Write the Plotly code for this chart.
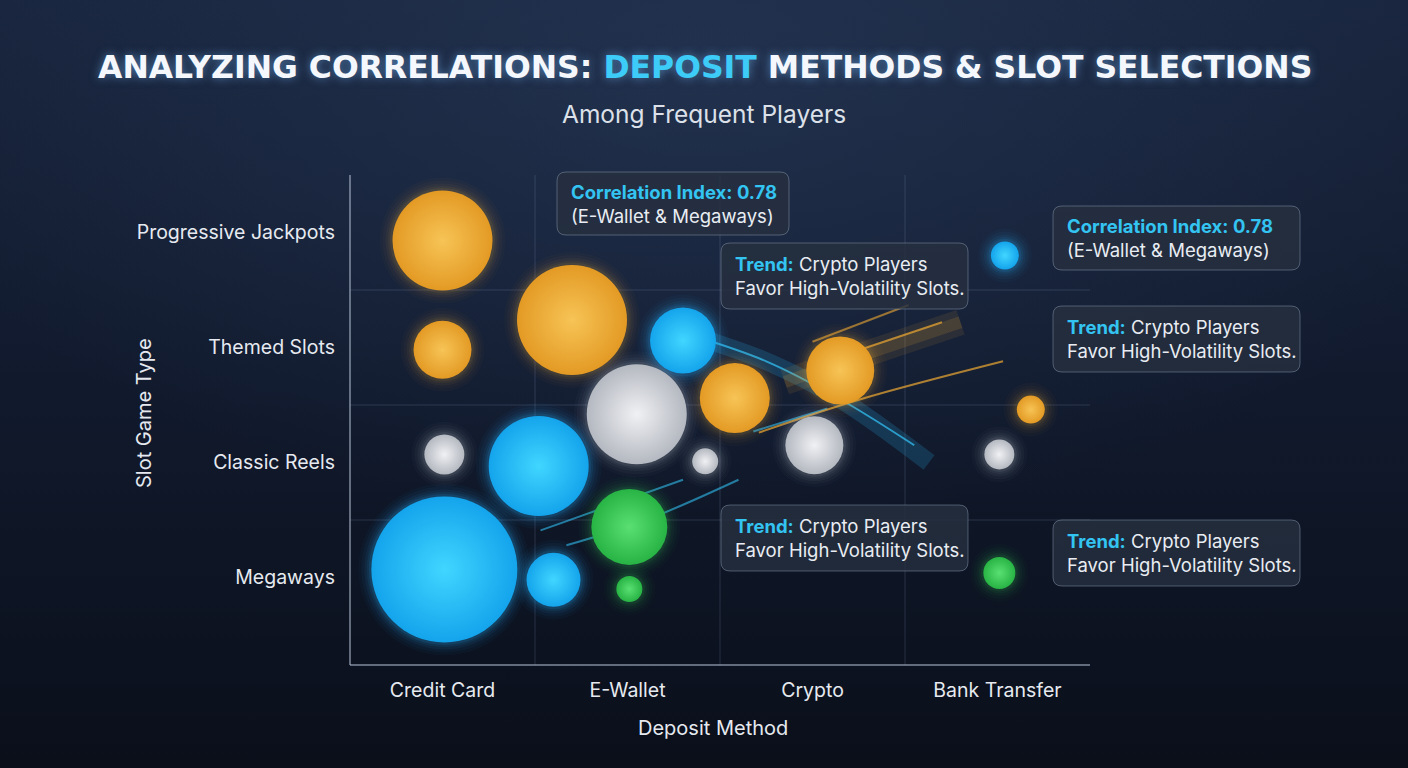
import base64
import plotly.graph_objects as go

# ---------------- data ----------------
deposit_methods = ["Credit Card", "E-Wallet", "Crypto", "Bank Transfer"]
slot_types = ["Megaways", "Classic Reels", "Themed Slots", "Progressive Jackpots"]

# bubble positions (category index, with jitter inside the cell)
bubble_x = [0.00, 0.00, 0.01, 0.01, 0.70, 1.30, 1.05, 0.52, 1.42, 1.01,
            0.60, 1.01, 1.58, 2.15, 2.01, 3.04, 3.18, 3.01, 3.01]
bubble_y = [2.93, 1.98, 1.07, 0.07, 2.24, 2.06, 1.42, 0.97, 1.01, 0.44,
            -0.02, -0.10, 1.56, 1.80, 1.15, 2.80, 1.46, 1.07, 0.04]
bubble_size = [100, 58, 40, 146, 110, 66, 100, 100, 26, 76,
               54, 26, 70, 68, 58, 28, 28, 30, 32]
bubble_tone = ["orange", "orange", "silver", "blue", "orange", "blue", "silver", "blue", "silver", "green",
               "blue", "green", "orange", "orange", "silver", "blue", "orange", "silver", "green"]

# decorative trend trails (data coords)
trails = [
    # (xs, ys, color, width)
    ([1.36, 1.75, 2.15, 2.63], [2.10, 1.88, 1.55, 1.00], "rgba(40,170,230,0.20)", 18),
    ([1.36, 1.75, 2.15, 2.55], [2.10, 1.88, 1.55, 1.15], "rgba(50,190,240,0.75)", 2),
    ([0.53, 1.30], [0.41, 0.85], "rgba(50,190,240,0.6)", 2),
    ([0.67, 1.10, 1.60], [0.28, 0.50, 0.85], "rgba(50,190,240,0.6)", 2),
    ([1.68, 2.08], [1.27, 1.47], "rgba(50,190,240,0.6)", 2),
    ([1.71, 2.26, 3.03], [1.26, 1.55, 1.88], "rgba(240,170,50,0.7)", 2),
    ([1.85, 2.30, 2.80], [1.70, 1.95, 2.22], "rgba(240,170,50,0.10)", 26),
    ([1.85, 2.30, 2.80], [1.70, 1.95, 2.22], "rgba(240,170,50,0.14)", 12),
    ([2.20, 2.70], [1.95, 2.22], "rgba(240,170,50,0.7)", 2),
    ([2.00, 2.52], [2.05, 2.37], "rgba(240,170,50,0.6)", 2),
]

note_corr = "<span style='color:#33C4F2'><b>Correlation Index: 0.78</b></span><br>(E-Wallet &amp; Megaways)"
note_trend = "<span style='color:#33C4F2'><b>Trend:</b></span> Crypto Players<br>Favor High-Volatility Slots."
# note boxes in pixel layout: (left, top, right, bottom, text)
notes = [
    (557, 172, 789, 235, note_corr),
    (721, 243, 968, 309, note_trend),
    (1053, 206, 1300, 270, note_corr),
    (1053, 306, 1300, 372, note_trend),
    (721, 505, 968, 571, note_trend),
    (1053, 520, 1300, 586, note_trend),
]

# ---------------- styling ----------------
W, H = 1408, 768
L, R, T, B = 350, 1090, 175, 665
PW, PH = R - L, B - T

tone_center = {"orange": "#F7C456", "blue": "#40D6FF", "silver": "#F0F1F4", "green": "#5AE072"}
tone_edge = {"orange": "#E39A24", "blue": "#14A4EC", "silver": "#B4B8C0", "green": "#28B345"}
tone_glow = {"orange": "rgba(245,175,60,{a})", "blue": "rgba(40,180,255,{a})",
             "silver": "rgba(220,225,235,{a})", "green": "rgba(60,220,100,{a})"}


def px(xp):
    return (xp - L) / PW


def py(yp):
    return (B - yp) / PH


# background via svg gradient image
svg = f"""<svg xmlns='http://www.w3.org/2000/svg' width='{W}' height='{H}'>
<defs>
<linearGradient id='g' x1='0' y1='0' x2='0' y2='1'>
<stop offset='0' stop-color='#18243C'/><stop offset='0.5' stop-color='#111A2D'/><stop offset='1' stop-color='#0A0F1A'/>
</linearGradient>
<radialGradient id='r' cx='0.5' cy='0.08' r='0.6'>
<stop offset='0' stop-color='#2A3D5E' stop-opacity='0.55'/><stop offset='1' stop-color='#2A3D5E' stop-opacity='0'/>
</radialGradient>
</defs>
<rect width='{W}' height='{H}' fill='url(#g)'/>
<rect width='{W}' height='{H}' fill='url(#r)'/>
</svg>"""
svg_uri = "data:image/svg+xml;base64," + base64.b64encode(svg.encode()).decode()

fig = go.Figure()

# trails
for xs, ys, col, wd in trails:
    fig.add_trace(go.Scatter(x=xs, y=ys, mode="lines", line=dict(color=col, width=wd, shape="spline"),
                             hoverinfo="skip", showlegend=False))

# glow halos
for extra, alpha in [(26, 0.035), (20, 0.045), (14, 0.06), (9, 0.08), (5, 0.11)]:
    fig.add_trace(go.Scatter(
        x=bubble_x, y=bubble_y, mode="markers", hoverinfo="skip", showlegend=False,
        marker=dict(size=[s + extra for s in bubble_size],
                    color=[tone_glow[t].format(a=alpha * (1.5 if t == "blue" else 1.0)) for t in bubble_tone],
                    line=dict(width=0)),
    ))

# bubbles (radial gradient: gradient colour sits at the centre)
fig.add_trace(go.Scatter(
    x=bubble_x, y=bubble_y, mode="markers", showlegend=False,
    marker=dict(size=bubble_size, sizemode="diameter",
                color=[tone_edge[t] for t in bubble_tone],
                gradient=dict(type="radial", color=[tone_center[t] for t in bubble_tone]),
                line=dict(width=0), opacity=1),
    hovertemplate="%{x:.2f}, %{y:.2f}<extra></extra>",
))

shapes = []
# grid lines
for g in [0.5, 1.5, 2.5]:
    shapes.append(dict(type="line", xref="x", yref="paper", x0=g, x1=g, y0=0, y1=1,
                       line=dict(color="rgba(140,160,190,0.22)", width=1), layer="below"))
    shapes.append(dict(type="line", xref="paper", yref="y", x0=0, x1=1, y0=g, y1=g,
                       line=dict(color="rgba(140,160,190,0.22)", width=1), layer="below"))
# axis lines
shapes.append(dict(type="line", xref="paper", yref="paper", x0=0, x1=0, y0=0, y1=1,
                   line=dict(color="rgba(170,182,200,0.55)", width=2)))
shapes.append(dict(type="line", xref="paper", yref="paper", x0=0, x1=1, y0=0, y1=0,
                   line=dict(color="rgba(170,182,200,0.55)", width=2)))


def rounded_path(l, t, r, b, rad=9):
    x0, x1 = px(l), px(r)
    y0, y1 = py(b), py(t)
    rx, ry = rad / PW, rad / PH
    return (f"M {x0+rx},{y1} L {x1-rx},{y1} Q {x1},{y1} {x1},{y1-ry} "
            f"L {x1},{y0+ry} Q {x1},{y0} {x1-rx},{y0} L {x0+rx},{y0} "
            f"Q {x0},{y0} {x0},{y0+ry} L {x0},{y1-ry} Q {x0},{y1} {x0+rx},{y1} Z")


annotations = []
for l, t, r, b, txt in notes:
    shapes.append(dict(type="path", xref="paper", yref="paper", path=rounded_path(l, t, r, b),
                       fillcolor="rgba(38,47,64,0.82)", line=dict(color="rgba(125,140,162,0.55)", width=1),
                       layer="above"))
    annotations.append(dict(xref="paper", yref="paper", x=px(l + 12), y=py((t + b) / 2),
                            xanchor="left", yanchor="middle", align="left", showarrow=False,
                            text=txt, font=dict(family="Inter", size=18.5, color="#E9EDF3")))

# title & subtitle
annotations.append(dict(xref="paper", yref="paper", x=px(705), y=py(67), xanchor="center", yanchor="middle",
                        showarrow=False,
                        text="ANALYZING CORRELATIONS: <span style='color:#3DCBF7'>DEPOSIT</span> METHODS &amp; SLOT SELECTIONS",
                        font=dict(family="DejaVu Sans", size=31.5, color="#F4F7FB", weight=700,
                                  shadow="0px 0px 10px rgba(120,190,255,0.55)")))
annotations.append(dict(xref="paper", yref="paper", x=px(704), y=py(114), xanchor="center", yanchor="middle",
                        showarrow=False, text="Among Frequent Players",
                        font=dict(family="Inter", size=24.5, color="#DCE1E9")))
# axis titles
annotations.append(dict(xref="paper", yref="paper", x=px(144), y=py(413), xanchor="center", yanchor="middle",
                        showarrow=False, text="Slot Game Type", textangle=-90,
                        font=dict(family="Inter", size=20, color="#E6EAF0")))
annotations.append(dict(xref="paper", yref="paper", x=px(713), y=py(728), xanchor="center", yanchor="middle",
                        showarrow=False, text="Deposit Method",
                        font=dict(family="Inter", size=20, color="#E6EAF0")))

fig.update_layout(
    width=W, height=H,
    margin=dict(l=L, r=W - R, t=T, b=H - B, pad=0),
    paper_bgcolor="#0F1728", plot_bgcolor="rgba(0,0,0,0)",
    images=[dict(source=svg_uri, xref="paper", yref="paper", x=px(0), y=py(0),
                 sizex=W / PW, sizey=H / PH, xanchor="left", yanchor="top",
                 sizing="stretch", layer="below")],
    shapes=shapes, annotations=annotations,
    xaxis=dict(range=[-0.5, 3.5], tickmode="array", tickvals=list(range(4)), ticktext=deposit_methods,
               showgrid=False, zeroline=False, showline=False, ticks="", ticklabelstandoff=11,
               tickfont=dict(family="Inter", size=19.5, color="#E6EAF0"), fixedrange=True),
    yaxis=dict(range=[-(B - 577.5) / 115, 3.5], tickmode="array", tickvals=list(range(4)), ticktext=slot_types,
               showgrid=False, zeroline=False, showline=False, ticks="", ticklabelstandoff=14,
               tickfont=dict(family="Inter", size=19.5, color="#E6EAF0"), fixedrange=True),
    hovermode="closest",
)

fig.write_html("out.html")
